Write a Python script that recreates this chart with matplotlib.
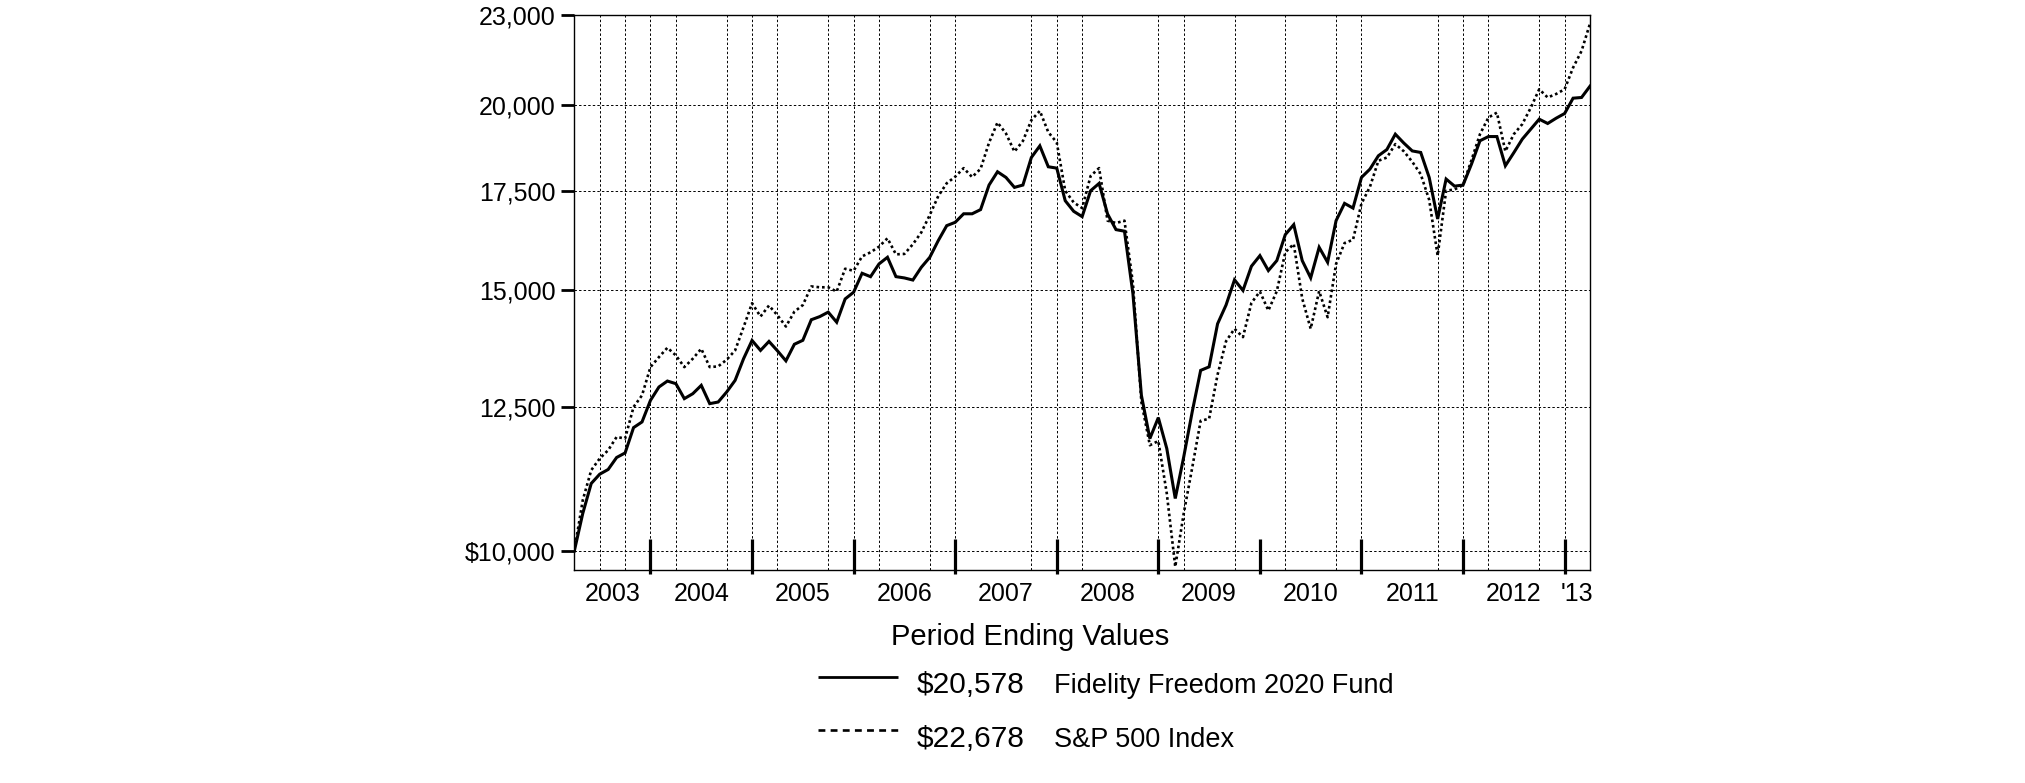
import numpy as np
import matplotlib
matplotlib.use("Agg")
import matplotlib.pyplot as plt
from matplotlib.lines import Line2D
from matplotlib.ticker import NullLocator

plt.rcParams['font.family'] = ['Liberation Sans', 'DejaVu Sans']

# ---- data (month-end values, Mar 2003 .. Mar 2013) ----
fund = [
    10000, 10601, 11106, 11267, 11350, 11563, 11645, 12112, 12219, 12636,
    12900, 13020, 12967, 12669, 12767, 12933, 12571, 12603, 12800, 13034,
    13480, 13867, 13654, 13846, 13646, 13435, 13785, 13870, 14320, 14390,
    14490, 14265, 14790, 14945, 15391, 15310, 15616, 15778, 15311, 15280,
    15230, 15535, 15778, 16192, 16572, 16658, 16880, 16880, 16990, 17650,
    18018, 17860, 17586, 17650, 18422, 18757, 18158, 18120, 17226, 16945,
    16806, 17495, 17695, 16876, 16470, 16430, 14908, 12734, 11908, 12301,
    11725, 10850, 11573, 12410, 13237, 13310, 14230, 14650, 15235, 14986,
    15560, 15818, 15456, 15697, 16343, 16598, 15697, 15282, 16024, 15656,
    16701, 17155, 17030, 17860, 18092, 18471, 18650, 19100, 18840, 18610,
    18566, 17860, 16745, 17815, 17620, 17650, 18235, 18906, 19030, 19030,
    18186, 18560, 18954, 19250, 19550, 19420, 19580, 19723, 20198, 20220,
    20578]

sp500 = [
    10000, 10822, 11337, 11545, 11694, 11938, 11908, 12506, 12734, 13305,
    13513, 13711, 13549, 13305, 13480, 13689, 13305, 13320, 13458, 13654,
    14157, 14692, 14392, 14639, 14420, 14170, 14500, 14650, 15080, 15060,
    15060, 14960, 15500, 15450, 15800, 15900, 16040, 16250, 15850, 15860,
    16100, 16400, 16850, 17350, 17700, 17880, 18120, 17870, 18100, 18850,
    19450, 19121, 18590, 18900, 19520, 19804, 19160, 18856, 17495, 17180,
    17030, 17900, 18121, 16701, 16640, 16700, 15150, 12600, 11785, 11863,
    10935, 9760, 10601, 11378, 12241, 12280, 13150, 13850, 14120, 13939,
    14700, 14960, 14527, 14970, 15900, 16107, 14800, 14120, 14970, 14377,
    15616, 16130, 16213, 17150, 17600, 18328, 18420, 18808, 18600, 18300,
    17950, 17250, 15818, 17495, 17530, 17650, 18350, 19100, 19600, 19750,
    18600, 19100, 19400, 19900, 20480, 20220, 20330, 20480, 21178, 21733,
    22678]

year_labels = ["2003", "2004", "2005", "2006", "2007", "2008",
               "2009", "2010", "2011", "2012", "'13"]
year_boundaries = [9, 21, 33, 45, 57, 69, 81, 93, 105, 117]   # Dec of each year
ytick_values = [10000, 12500, 15000, 17500, 20000, 23000]
ytick_labels = ["$10,000", "12,500", "15,000", "17,500", "20,000", "23,000"]
legend_title = "Period Ending Values"
legend_values = ["$20,578", "$22,678"]
legend_names = ["Fidelity Freedom 2020 Fund", "S&P 500 Index"]
skipped_grid = [15, 48, 63, 66, 81, 96, 111]

months = np.arange(len(fund))
n_last = len(fund) - 1

W, H = 2025, 783
fig = plt.figure(figsize=(W / 100, H / 100), dpi=100)
fig.patch.set_facecolor('white')

ax_l, ax_r, ax_t, ax_b = 574.3, 1590.0, 14.5, 570.0
ax = fig.add_axes([ax_l / W, 1 - ax_b / H, (ax_r - ax_l) / W, (ax_b - ax_t) / H])
ax.set_yscale('log')
ax.set_xlim(0, n_last)
ax.set_ylim(9710, 23000)

# data lines
ax.plot(months, sp500, color='black', lw=1.9, linestyle=(0, (1.0, 1.1)),
        solid_capstyle='butt', dash_capstyle='butt', zorder=3)
ax.plot(months, fund, color='black', lw=2.2, zorder=4,
        solid_joinstyle='miter')

# y axis
ax.set_yticks(ytick_values, labels=ytick_labels)
ax.yaxis.set_minor_locator(NullLocator())
ax.tick_params(axis='y', which='major', direction='out', length=9.5,
               width=2.0, pad=4.0, labelsize=18, colors='black')
ax.yaxis.grid(True, which='major', color='black', lw=0.7,
              linestyle=(0, (2.5, 2.2)))

# x axis: year labels centred in each year span, quarterly grid
edges = [0] + year_boundaries + [n_last]
mids = [(a + b) / 2 for a, b in zip(edges[:-1], edges[1:])]
ax.set_xticks(mids, labels=year_labels)
ax.tick_params(axis='x', which='major', length=0, pad=8.5, labelsize=18)
quarters = [q for q in range(3, n_last, 3) if q not in skipped_grid]
ax.set_xticks(quarters, minor=True)
ax.tick_params(axis='x', which='minor', length=0)
ax.xaxis.grid(True, which='minor', color='black', lw=0.7,
              linestyle=(0, (2.5, 2.2)))
ax.xaxis.grid(False, which='major')

# year boundary marks
ax.vlines(year_boundaries, -4 / (ax_b - ax_t), 31 / (ax_b - ax_t),
          transform=ax.get_xaxis_transform(), colors='black', lw=2.3,
          clip_on=False, zorder=5)

for s in ax.spines.values():
    s.set_linewidth(1.0)
    s.set_color('black')
ax.set_axisbelow(True)

# legend block
def fx(px):
    return px / W

def fy(py):
    return 1 - py / H

fig.text(fx(1030), fy(645), legend_title, ha='center', va='baseline',
         fontsize=21)
row_line_y = [677, 730]
row_base_y = [693, 747]
styles = [dict(linestyle='-', lw=2.0),
          dict(linestyle=(0, (2.6, 2.0)), lw=1.9)]
for k in range(2):
    fig.add_artist(Line2D([fx(818), fx(898)], [fy(row_line_y[k])] * 2,
                          color='black', solid_capstyle='butt',
                          dash_capstyle='butt', **styles[k]))
    fig.text(fx(917), fy(row_base_y[k]), legend_values[k], ha='left',
             va='baseline', fontsize=21.5)
    fig.text(fx(1054), fy(row_base_y[k]), legend_names[k], ha='left',
             va='baseline', fontsize=19.5)

fig.savefig('out.png', dpi=100, facecolor='white')
